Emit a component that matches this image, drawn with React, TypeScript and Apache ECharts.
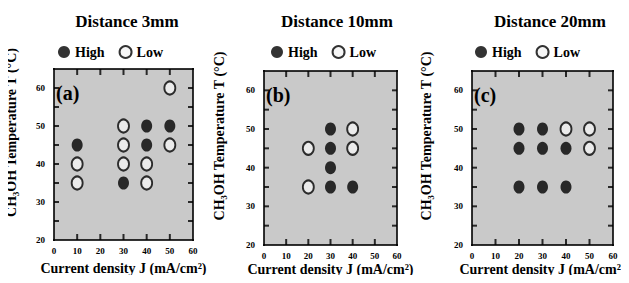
import React, { useEffect, useRef } from "react";
import * as echarts from "echarts";

const panelTitles = ["Distance 3mm", "Distance 10mm", "Distance 20mm"];
const panelTags = ["(a)", "(b)", "(c)"];
const yTicks = [20, 30, 40, 50, 60];
const xMinorTicks = [10, 20, 30, 40, 50];
const yMinorTicks = [25, 30, 35, 40, 45, 50, 55, 60];
const xRange = [0, 60];
const yRange = [20, 65];

// [J (mA/cm2), T (°C)]
const highA = [[10, 45], [30, 35], [40, 50], [40, 45], [50, 50]];
const lowA = [[10, 40], [10, 35], [30, 50], [30, 45], [30, 40], [40, 40], [40, 35], [50, 60], [50, 45]];
const highB = [[30, 50], [30, 45], [30, 40], [30, 35], [40, 35]];
const lowB = [[20, 45], [20, 35], [40, 50], [40, 45]];
const highC = [[20, 50], [30, 50], [20, 45], [30, 45], [40, 45], [20, 35], [30, 35], [40, 35]];
const lowC = [[40, 50], [50, 50], [50, 45]];

const highs = [highA, highB, highC];
const lows = [lowA, lowB, lowC];

const grids = [
  { left: 54, top: 69, width: 139, height: 171 },
  { left: 264, top: 71, width: 133, height: 174 },
  { left: 472, top: 71, width: 141, height: 174 },
];
const titleX = [122, 332, 545];
const legendX = [53, 266, 470];
const yTitleX = [11, 219, 426];
const xNameGap = [21, 17, 17];

const FONT = "'Liberation Serif', 'Times New Roman', serif";

const bgItem = (_params: any, api: any) => {
  const p0 = api.coord([xRange[0], yRange[0]]);
  const p1 = api.coord([xRange[1], yRange[1]]);
  return {
    type: "rect",
    shape: { x: p0[0], y: p1[1], width: p1[0] - p0[0], height: p0[1] - p1[1] },
    style: { fill: "#c9c9c9" },
  };
};

export default function App() {
  const ref = useRef<HTMLDivElement>(null);
  useEffect(() => {
    if (!ref.current) return;
    const chart = echarts.init(ref.current, null, { renderer: "svg" });
    const xAxis: any[] = [];
    const yAxis: any[] = [];
    const series: any[] = [];
    const graphic: any[] = [];
    const xMid = (xRange[0] + xRange[1]) / 2;
    const yMid = (yRange[0] + yRange[1]) / 2;
    grids.forEach((g, i) => {
      xAxis.push({
        gridIndex: i, type: "value", min: xRange[0], max: xRange[1], interval: 10, position: "bottom",
        axisLine: { show: false }, axisTick: { show: false },
        axisLabel: { color: "#000", fontFamily: FONT, fontWeight: "bold", fontSize: 9, margin: 6 },
        splitLine: { show: false },
        name: "Current density J (mA/cm²)", nameLocation: "middle", nameGap: xNameGap[i],
        nameMoveOverlap: false,
        nameTextStyle: { color: "#000", fontFamily: FONT, fontWeight: "bold", fontSize: 14 },
      });
      yAxis.push({
        gridIndex: i, type: "value", min: yRange[0], max: yRange[1], interval: 5, position: "left",
        axisLine: { show: false }, axisTick: { show: false },
        axisLabel: {
          color: "#000", fontFamily: FONT, fontWeight: "bold", fontSize: 9, margin: 9,
          formatter: (v: number) => (yTicks.includes(v) ? String(v) : ""),
        },
        splitLine: { show: false },
      });
      const common = {
        type: "scatter", xAxisIndex: i, yAxisIndex: i, clip: false, silent: true,
        symbol: "rect", itemStyle: { color: "#000000" }, z: 2,
      };
      series.push({
        type: "custom", coordinateSystem: "cartesian2d", xAxisIndex: i, yAxisIndex: i,
        z: 1, clip: false, silent: true, data: [[xRange[0], yRange[0]]], renderItem: bgItem,
      });
      // frame: horizontal edges
      series.push({ ...common, data: [[xMid, yRange[0]], [xMid, yRange[1]]], symbolSize: [g.width + 2, 2] });
      // frame: vertical edges
      series.push({ ...common, data: [[xRange[0], yMid], [xRange[1], yMid]], symbolSize: [2, g.height + 2] });
      // inside ticks
      series.push({ ...common, data: xMinorTicks.map((v) => [v, yRange[0]]), symbolSize: [2, 6], symbolOffset: [0, -3] });
      series.push({ ...common, data: xMinorTicks.map((v) => [v, yRange[1]]), symbolSize: [2, 6], symbolOffset: [0, 3] });
      series.push({ ...common, data: yMinorTicks.map((v) => [xRange[0], v]), symbolSize: [5, 2], symbolOffset: [2.5, 0] });
      series.push({ ...common, data: yMinorTicks.map((v) => [xRange[1], v]), symbolSize: [5, 2], symbolOffset: [-2.5, 0] });
      series.push({
        name: "High", type: "scatter", xAxisIndex: i, yAxisIndex: i, z: 3,
        data: highs[i], symbol: "circle", symbolSize: [11, 13],
        itemStyle: { color: "#000" },
      });
      series.push({
        name: "Low", type: "scatter", xAxisIndex: i, yAxisIndex: i, z: 3,
        data: lows[i], symbol: "circle", symbolSize: [11, 13],
        itemStyle: { color: "#f4f4f4", borderColor: "#000", borderWidth: 2 },
      });
      graphic.push({
        type: "text", left: g.left + 2, top: g.top + 14, z: 10,
        style: { text: panelTags[i], fill: "#000", font: `bold 20px ${FONT}` },
      });
      graphic.push({
        type: "text", x: yTitleX[i], y: g.top + g.height / 2 - 22, rotation: Math.PI / 2,
        style: {
          text: "CH₃OH Temperature T (°C)", fill: "#000", font: `bold 14px ${FONT}`,
          align: "center", verticalAlign: "middle",
        },
      });
    });
    chart.setOption({
      animation: false,
      backgroundColor: "#ffffff",
      title: panelTitles.map((t, i) => ({
        text: t, left: titleX[i], top: 8, textAlign: "center",
        textStyle: { color: "#000", fontFamily: FONT, fontWeight: "bold", fontSize: 17 },
      })),
      legend: legendX.map((x) => ({
        left: x, top: 40, itemWidth: 12, itemHeight: 13, itemGap: 14,
        data: [
          { name: "High", icon: "circle" },
          { name: "Low", icon: "circle" },
        ],
        textStyle: { color: "#000", fontFamily: FONT, fontWeight: "bold", fontSize: 14 },
      })),
      grid: grids.map((g) => ({ ...g, containLabel: false, show: false })),
      xAxis, yAxis, series, graphic,
    });
    return () => chart.dispose();
  }, []);
  return <div ref={ref} style={{ width: 629, height: 283, margin: -8 }} />;
}
